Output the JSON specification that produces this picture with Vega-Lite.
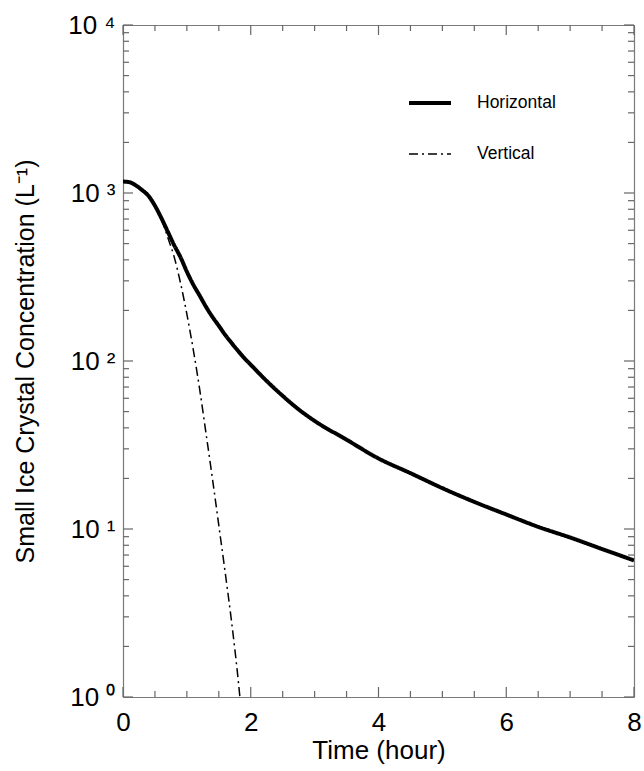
{
  "$schema": "https://vega.github.io/schema/vega-lite/v6.json",
  "autosize": {"type": "none"},
  "padding": {"left": 123, "top": 25, "right": 10, "bottom": 74},
  "width": 511,
  "height": 672,
  "background": "white",
  "config": {
    "view": {"stroke": null},
    "axis": {"domainColor": "#7a7a7a", "grid": false, "ticks": false, "labelFont": "Liberation Sans", "titleFont": "Liberation Sans", "labelColor": "black", "titleColor": "black", "titleFontWeight": "normal", "domainWidth": 1.2},
    "legend": {"labelFont": "Liberation Sans"}
  },
  "datasets": {
    "xt": [
      {"x": 0, "k": "major"}, {"x": 0.5, "k": "minor"}, {"x": 1, "k": "minor"}, {"x": 1.5, "k": "minor"},
      {"x": 2, "k": "major"}, {"x": 2.5, "k": "minor"}, {"x": 3, "k": "minor"}, {"x": 3.5, "k": "minor"},
      {"x": 4, "k": "major"}, {"x": 4.5, "k": "minor"}, {"x": 5, "k": "minor"}, {"x": 5.5, "k": "minor"},
      {"x": 6, "k": "major"}, {"x": 6.5, "k": "minor"}, {"x": 7, "k": "minor"}, {"x": 7.5, "k": "minor"},
      {"x": 8, "k": "major"}
    ],
    "yt": [
      {"y": 1, "k": "major"}, {"y": 2, "k": "minor"}, {"y": 3, "k": "minor"}, {"y": 4, "k": "minor"}, {"y": 5, "k": "minor"}, {"y": 6, "k": "minor"}, {"y": 7, "k": "minor"}, {"y": 8, "k": "minor"}, {"y": 9, "k": "minor"},
      {"y": 10, "k": "major"}, {"y": 20, "k": "minor"}, {"y": 30, "k": "minor"}, {"y": 40, "k": "minor"}, {"y": 50, "k": "minor"}, {"y": 60, "k": "minor"}, {"y": 70, "k": "minor"}, {"y": 80, "k": "minor"}, {"y": 90, "k": "minor"},
      {"y": 100, "k": "major"}, {"y": 200, "k": "minor"}, {"y": 300, "k": "minor"}, {"y": 400, "k": "minor"}, {"y": 500, "k": "minor"}, {"y": 600, "k": "minor"}, {"y": 700, "k": "minor"}, {"y": 800, "k": "minor"}, {"y": 900, "k": "minor"},
      {"y": 1000, "k": "major"}, {"y": 2000, "k": "minor"}, {"y": 3000, "k": "minor"}, {"y": 4000, "k": "minor"}, {"y": 5000, "k": "minor"}, {"y": 6000, "k": "minor"}, {"y": 7000, "k": "minor"}, {"y": 8000, "k": "minor"}, {"y": 9000, "k": "minor"},
      {"y": 10000, "k": "major"}
    ],
    "curves": [
      {"t": 0, "v": 1170, "s": "Horizontal"},
      {"t": 0.1, "v": 1160, "s": "Horizontal"},
      {"t": 0.2, "v": 1110, "s": "Horizontal"},
      {"t": 0.3, "v": 1040, "s": "Horizontal"},
      {"t": 0.4, "v": 960, "s": "Horizontal"},
      {"t": 0.5, "v": 840, "s": "Horizontal"},
      {"t": 0.6, "v": 710, "s": "Horizontal"},
      {"t": 0.7, "v": 590, "s": "Horizontal"},
      {"t": 0.8, "v": 490, "s": "Horizontal"},
      {"t": 0.9, "v": 415, "s": "Horizontal"},
      {"t": 1.0, "v": 340, "s": "Horizontal"},
      {"t": 1.1, "v": 285, "s": "Horizontal"},
      {"t": 1.2, "v": 245, "s": "Horizontal"},
      {"t": 1.3, "v": 210, "s": "Horizontal"},
      {"t": 1.4, "v": 183, "s": "Horizontal"},
      {"t": 1.5, "v": 162, "s": "Horizontal"},
      {"t": 1.6, "v": 143, "s": "Horizontal"},
      {"t": 1.7, "v": 128, "s": "Horizontal"},
      {"t": 1.8, "v": 115, "s": "Horizontal"},
      {"t": 1.9, "v": 104, "s": "Horizontal"},
      {"t": 2.0, "v": 95, "s": "Horizontal"},
      {"t": 2.25, "v": 76, "s": "Horizontal"},
      {"t": 2.5, "v": 62, "s": "Horizontal"},
      {"t": 2.75, "v": 51.5, "s": "Horizontal"},
      {"t": 3.0, "v": 44, "s": "Horizontal"},
      {"t": 3.5, "v": 34, "s": "Horizontal"},
      {"t": 4.0, "v": 26.3, "s": "Horizontal"},
      {"t": 4.5, "v": 21.5, "s": "Horizontal"},
      {"t": 5.0, "v": 17.5, "s": "Horizontal"},
      {"t": 5.5, "v": 14.5, "s": "Horizontal"},
      {"t": 6.0, "v": 12.2, "s": "Horizontal"},
      {"t": 6.5, "v": 10.3, "s": "Horizontal"},
      {"t": 7.0, "v": 8.9, "s": "Horizontal"},
      {"t": 7.5, "v": 7.6, "s": "Horizontal"},
      {"t": 8.0, "v": 6.5, "s": "Horizontal"},
      {"t": 0, "v": 1170, "s": "Vertical"},
      {"t": 0.1, "v": 1160, "s": "Vertical"},
      {"t": 0.2, "v": 1110, "s": "Vertical"},
      {"t": 0.3, "v": 1040, "s": "Vertical"},
      {"t": 0.4, "v": 960, "s": "Vertical"},
      {"t": 0.5, "v": 840, "s": "Vertical"},
      {"t": 0.6, "v": 705, "s": "Vertical"},
      {"t": 0.7, "v": 545, "s": "Vertical"},
      {"t": 0.8, "v": 418, "s": "Vertical"},
      {"t": 0.9, "v": 292, "s": "Vertical"},
      {"t": 1.0, "v": 190, "s": "Vertical"},
      {"t": 1.1, "v": 117, "s": "Vertical"},
      {"t": 1.2, "v": 68, "s": "Vertical"},
      {"t": 1.3, "v": 37, "s": "Vertical"},
      {"t": 1.4, "v": 20, "s": "Vertical"},
      {"t": 1.5, "v": 10.5, "s": "Vertical"},
      {"t": 1.6, "v": 5.5, "s": "Vertical"},
      {"t": 1.7, "v": 2.8, "s": "Vertical"},
      {"t": 1.8, "v": 1.3, "s": "Vertical"},
      {"t": 1.83, "v": 1.0, "s": "Vertical"}
    ]
  },
  "resolve": {"axis": {"x": "independent", "y": "independent"}},
  "layer": [
    {
      "data": {"name": "curves"},
      "transform": [{"filter": "datum.s === 'Vertical'"}],
      "mark": {"type": "line", "color": "black", "clip": true, "interpolate": "monotone"},
      "encoding": {
        "x": {"field": "t", "type": "quantitative", "scale": {"domain": [0, 8], "nice": false},
          "axis": {"orient": "bottom", "values": [0, 2, 4, 6, 8], "format": "d",
            "labelFontSize": 26, "labelPadding": 12, "labelFlush": false,
            "title": "Time (hour)", "titleFontSize": 26, "titlePadding": 2}},
        "y": {"field": "v", "type": "quantitative", "scale": {"type": "log", "domain": [1, 10000], "nice": false},
          "axis": {"orient": "left", "values": [1, 10, 100, 1000, 10000],
            "labelExpr": "datum.value === 1 ? '10 ⁰' : datum.value === 10 ? '10 ¹' : datum.value === 100 ? '10 ²' : datum.value === 1000 ? '10 ³' : '10 ⁴'",
            "labelFontSize": 26, "labelPadding": 8, "labelFlush": false,
            "title": "Small Ice Crystal Concentration (L⁻¹)", "titleFontSize": 25,
            "titleX": -90, "titleY": 336, "titleAngle": -90, "titleAlign": "center", "titleBaseline": "alphabetic"}},
        "strokeDash": {"field": "s", "type": "nominal", "scale": {"domain": ["Horizontal", "Vertical"], "range": [[1, 0], [9, 4, 2, 4]]},
          "legend": {"title": null, "orient": "none", "legendX": 284, "legendY": 55, "symbolType": "stroke", "symbolSize": 1764, "symbolStrokeColor": "black", "labelFontSize": 17.5, "labelOffset": 24, "rowPadding": 20}},
        "strokeWidth": {"field": "s", "type": "nominal", "scale": {"domain": ["Horizontal", "Vertical"], "range": [4, 1.5]},
          "legend": {"title": null, "orient": "none", "legendX": 284, "legendY": 55, "symbolType": "stroke", "symbolSize": 1764, "symbolStrokeColor": "black", "labelFontSize": 17.5, "labelOffset": 24, "rowPadding": 20}}
      }
    },
    {
      "data": {"name": "curves"},
      "transform": [{"filter": "datum.s === 'Horizontal'"}],
      "mark": {"type": "line", "color": "black", "clip": true, "interpolate": "monotone"},
      "encoding": {
        "x": {"field": "t", "type": "quantitative", "axis": null},
        "y": {"field": "v", "type": "quantitative", "axis": null},
        "strokeDash": {"field": "s", "type": "nominal"},
        "strokeWidth": {"field": "s", "type": "nominal"}
      }
    },
    {
      "data": {"name": "curves"},
      "mark": {"type": "line", "opacity": 0},
      "encoding": {
        "x": {"field": "t", "type": "quantitative",
          "axis": {"orient": "top", "values": [0, 2, 4, 6, 8], "labels": false, "title": null}},
        "y": {"field": "v", "type": "quantitative",
          "axis": {"orient": "right", "values": [1, 10, 100, 1000, 10000], "labels": false, "title": null}},
        "detail": {"field": "s", "type": "nominal"}
      }
    },
    {
      "data": {"name": "xt"},
      "transform": [{"filter": "datum.k === 'major'"}],
      "mark": {"type": "rule", "color": "#666666", "strokeWidth": 1.2},
      "encoding": {
        "x": {"field": "x", "type": "quantitative", "axis": null},
        "y": {"datum": 1, "type": "quantitative", "axis": null},
        "y2": {"datum": 1.147}
      }
    },
    {
      "data": {"name": "xt"},
      "transform": [{"filter": "datum.k === 'minor'"}],
      "mark": {"type": "rule", "color": "#666666", "strokeWidth": 1.2},
      "encoding": {
        "x": {"field": "x", "type": "quantitative", "axis": null},
        "y": {"datum": 1, "type": "quantitative", "axis": null},
        "y2": {"datum": 1.086}
      }
    },
    {
      "data": {"name": "xt"},
      "transform": [{"filter": "datum.k === 'major'"}],
      "mark": {"type": "rule", "color": "#666666", "strokeWidth": 1.2},
      "encoding": {
        "x": {"field": "x", "type": "quantitative", "axis": null},
        "y": {"datum": 10000, "type": "quantitative", "axis": null},
        "y2": {"datum": 8718}
      }
    },
    {
      "data": {"name": "xt"},
      "transform": [{"filter": "datum.k === 'minor'"}],
      "mark": {"type": "rule", "color": "#666666", "strokeWidth": 1.2},
      "encoding": {
        "x": {"field": "x", "type": "quantitative", "axis": null},
        "y": {"datum": 10000, "type": "quantitative", "axis": null},
        "y2": {"datum": 9208}
      }
    },
    {
      "data": {"name": "yt"},
      "transform": [{"filter": "datum.k === 'major'"}],
      "mark": {"type": "rule", "color": "#666666", "strokeWidth": 1.2},
      "encoding": {
        "y": {"field": "y", "type": "quantitative", "axis": null},
        "x": {"datum": 0, "type": "quantitative", "axis": null},
        "x2": {"datum": 0.1565}
      }
    },
    {
      "data": {"name": "yt"},
      "transform": [{"filter": "datum.k === 'minor'"}],
      "mark": {"type": "rule", "color": "#666666", "strokeWidth": 1.2},
      "encoding": {
        "y": {"field": "y", "type": "quantitative", "axis": null},
        "x": {"datum": 0, "type": "quantitative", "axis": null},
        "x2": {"datum": 0.0939}
      }
    },
    {
      "data": {"name": "yt"},
      "transform": [{"filter": "datum.k === 'major'"}],
      "mark": {"type": "rule", "color": "#666666", "strokeWidth": 1.2},
      "encoding": {
        "y": {"field": "y", "type": "quantitative", "axis": null},
        "x": {"datum": 8, "type": "quantitative", "axis": null},
        "x2": {"datum": 7.8435}
      }
    },
    {
      "data": {"name": "yt"},
      "transform": [{"filter": "datum.k === 'minor'"}],
      "mark": {"type": "rule", "color": "#666666", "strokeWidth": 1.2},
      "encoding": {
        "y": {"field": "y", "type": "quantitative", "axis": null},
        "x": {"datum": 8, "type": "quantitative", "axis": null},
        "x2": {"datum": 7.906}
      }
    }
  ]
}
